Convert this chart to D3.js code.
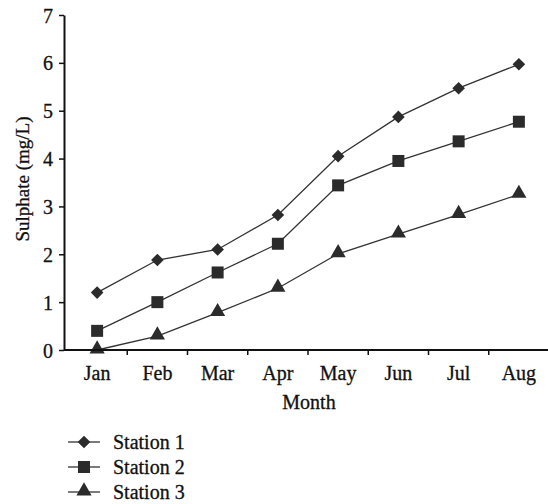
<!DOCTYPE html>
<html lang="en">
<head>
  <meta charset="utf-8">
  <title>Sulphate by station</title>
  <script src="https://d3js.org/d3.v7.min.js"></script>
  <style>
    body { margin: 0; background: #fff; }
    #chart text { font-family: "Liberation Serif", "DejaVu Serif", serif; fill: #111; stroke: #111; stroke-width: 0.3px; }
  </style>
</head>
<body>
  <div id="chart"></div>
  <script>
    "use strict"

    // data
    var months = ['Jan', 'Feb', 'Mar', 'Apr', 'May', 'Jun', 'Jul', 'Aug'];
    var station1 = [1.2, 1.88, 2.1, 2.82, 4.05, 4.87, 5.47, 5.97];
    var station2 = [0.4, 1.0, 1.62, 2.22, 3.44, 3.95, 4.36, 4.77];
    var station3 = [0.0, 0.29, 0.78, 1.29, 2.01, 2.42, 2.83, 3.25];
    var seriesNames = ['Station 1', 'Station 2', 'Station 3'];
    var yTicks = [0, 1, 2, 3, 4, 5, 6, 7];

    var largura = 548, altura = 504;
    var margin = {top: 15, right: -1, bottom: 154, left: 67};

    var svg = d3.select('#chart').append('svg')
      .attr('width', largura)
      .attr('height', altura);

    var x = d3.scaleBand()
      .domain(months)
      .range([margin.left, largura - margin.right])
      .paddingInner(0).paddingOuter(0);

    var y = d3.scaleLinear()
      .domain([0, 7])
      .range([altura - margin.bottom, margin.top]);

    var series = [station1, station2, station3].map(function(vals, i) {
      return {name: seriesNames[i], values: vals.map(function(v, j) { return {m: months[j], v: v}; })};
    });

    // marker shapes: diamond, square, triangle
    var shapes = [
      function(g) { return g.append('path').attr('d', d3.symbol(d3.symbolSquare, 80)()).attr('transform', 'rotate(45)'); },
      function(g) { return g.append('path').attr('d', d3.symbol(d3.symbolSquare, 144)()); },
      function(g) { return g.append('path').attr('d', d3.symbol(d3.symbolTriangle, 100)()).attr('transform', 'translate(0,-1)'); }
    ];

    var linha = d3.line()
      .x(function(d) { return x(d.m) + x.bandwidth() / 2; })
      .y(function(d) { return y(d.v); });

    series.forEach(function(s, i) {
      svg.append('path')
        .datum(s.values)
        .attr('d', linha)
        .attr('fill', 'none')
        .attr('stroke', '#333')
        .attr('stroke-width', 1.3);

      s.values.forEach(function(d) {
        var g = svg.append('g')
          .attr('transform', 'translate(' + (x(d.m) + x.bandwidth() / 2) + ',' + y(d.v) + ')');
        shapes[i](g).attr('fill', '#2b2b2b');
      });
    });

    // y axis
    var eixoY = svg.append('g')
      .attr('transform', 'translate(64,0)')
      .call(d3.axisLeft(y).tickValues(yTicks).tickFormat(d3.format('d')).tickSize(5).tickSizeOuter(0).tickPadding(6));
    eixoY.select('.domain').attr('stroke', '#111').attr('stroke-width', 2);
    eixoY.selectAll('.tick line').attr('stroke', '#111').attr('stroke-width', 1.5);
    eixoY.selectAll('.tick text').style('font-size', '20px').attr('dy', '0.35em');

    // x axis: labels centred in bands, ticks on band edges
    var y0 = y(0);
    svg.append('line')
      .attr('x1', 64).attr('x2', largura)
      .attr('y1', y0).attr('y2', y0)
      .attr('stroke', '#111').attr('stroke-width', 2);
    svg.selectAll('.xtick')
      .data(months.slice(1))
      .enter().append('line')
        .attr('class', 'xtick')
        .attr('x1', function(d) { return x(d); })
        .attr('x2', function(d) { return x(d); })
        .attr('y1', y0).attr('y2', y0 + 5)
        .attr('stroke', '#111').attr('stroke-width', 1.5);
    svg.selectAll('.xlabel')
      .data(months)
      .enter().append('text')
        .attr('class', 'xlabel')
        .attr('x', function(d) { return x(d) + x.bandwidth() / 2; })
        .attr('y', y0 + 30)
        .attr('text-anchor', 'middle')
        .style('font-size', '20px')
        .text(function(d) { return d; });

    svg.append('text')
      .attr('x', 309).attr('y', 409)
      .attr('text-anchor', 'middle')
      .style('font-size', '20px')
      .text('Month');

    svg.append('text')
      .attr('transform', 'translate(29,179) rotate(-90)')
      .attr('text-anchor', 'middle')
      .style('font-size', '19px')
      .text('Sulphate (mg/L)');

    // legend
    var legenda = svg.append('g').attr('transform', 'translate(68,442)');
    seriesNames.forEach(function(nome, i) {
      var row = legenda.append('g').attr('transform', 'translate(0,' + (i * 25) + ')');
      row.append('line')
        .attr('x1', 0).attr('x2', 32).attr('y1', 0).attr('y2', 0)
        .attr('stroke', '#333').attr('stroke-width', 1.3);
      var m = row.append('g').attr('transform', 'translate(16,0)');
      shapes[i](m).attr('fill', '#2b2b2b');
      row.append('text')
        .attr('x', 45).attr('y', 0).attr('dy', '0.35em')
        .style('font-size', '20px')
        .text(nome);
    });
  </script>
</body>
</html>
